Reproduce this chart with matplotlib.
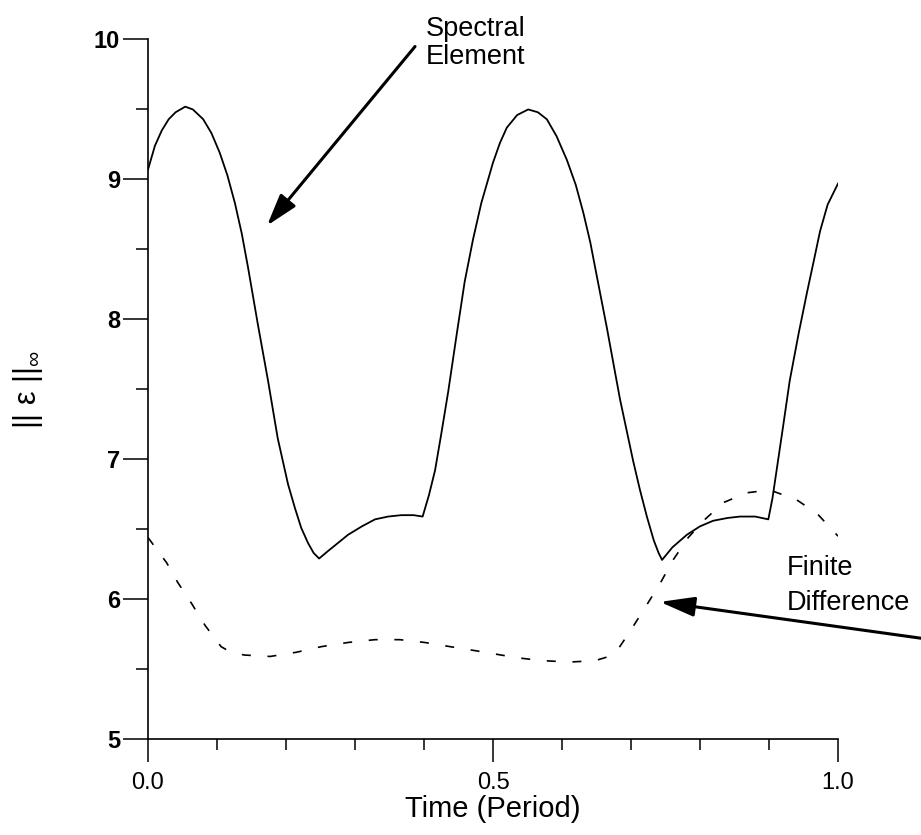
import matplotlib
matplotlib.use('Agg')
import matplotlib.pyplot as plt
import numpy as np

plt.rcParams['font.family'] = ['Liberation Sans', 'DejaVu Sans']
plt.rcParams['mathtext.fontset'] = 'custom'
plt.rcParams['mathtext.rm'] = 'Liberation Sans'
plt.rcParams['mathtext.it'] = 'Liberation Sans'

### Donnees

# Spectral Element (trait plein)
t_se = np.array([0.0, 0.01, 0.02, 0.03, 0.04, 0.054, 0.065, 0.08, 0.092, 0.104,
                 0.115, 0.126, 0.136, 0.145, 0.159, 0.174, 0.188, 0.203, 0.213, 0.222,
                 0.232, 0.240, 0.248, 0.26, 0.275, 0.29, 0.31, 0.329, 0.348, 0.367,
                 0.385, 0.398, 0.407, 0.416, 0.425, 0.435, 0.447, 0.459, 0.471, 0.483,
                 0.5, 0.51, 0.52, 0.535, 0.551, 0.565, 0.578, 0.592, 0.607, 0.62,
                 0.631, 0.641, 0.65, 0.665, 0.684, 0.703, 0.713, 0.723, 0.733, 0.74,
                 0.745, 0.76, 0.781, 0.80, 0.819, 0.84, 0.858, 0.88, 0.899, 0.905,
                 0.911, 0.92, 0.93, 0.943, 0.955, 0.965, 0.974, 0.985, 1.0])
e_se = np.array([9.07, 9.24, 9.35, 9.43, 9.48, 9.52, 9.50, 9.43, 9.33, 9.19,
                 9.03, 8.83, 8.61, 8.37, 7.97, 7.56, 7.15, 6.82, 6.65, 6.51,
                 6.40, 6.33, 6.29, 6.34, 6.40, 6.46, 6.52, 6.57, 6.59, 6.60,
                 6.60, 6.59, 6.74, 6.92, 7.18, 7.48, 7.88, 8.27, 8.57, 8.83,
                 9.12, 9.26, 9.37, 9.46, 9.50, 9.48, 9.43, 9.31, 9.14, 8.96,
                 8.76, 8.55, 8.32, 7.94, 7.43, 6.99, 6.78, 6.59, 6.42, 6.33,
                 6.28, 6.37, 6.46, 6.52, 6.56, 6.58, 6.59, 6.59, 6.57, 6.72,
                 6.92, 7.22, 7.56, 7.90, 8.19, 8.42, 8.63, 8.82, 8.97])

# Finite Difference (tirets)
t_fd = np.array([0.0, 0.027, 0.043, 0.063, 0.083, 0.106, 0.12, 0.14, 0.177, 0.215,
                 0.251, 0.29, 0.329, 0.365, 0.401, 0.438, 0.476, 0.5, 0.536, 0.572,
                 0.611, 0.648, 0.668, 0.681, 0.70, 0.723, 0.742, 0.761, 0.783, 0.805,
                 0.834, 0.868, 0.901, 0.94, 0.97, 1.0])
e_fd = np.array([6.44, 6.26, 6.12, 5.97, 5.81, 5.66, 5.62, 5.60, 5.59, 5.62,
                 5.66, 5.69, 5.71, 5.71, 5.69, 5.66, 5.63, 5.61, 5.58, 5.56,
                 5.55, 5.56, 5.59, 5.64, 5.78, 5.96, 6.11, 6.28, 6.44, 6.56,
                 6.69, 6.76, 6.78, 6.71, 6.61, 6.45])

### Trace

W, H = 921, 835
fig = plt.figure(figsize=(W/100, H/100), dpi=100)
ax = fig.add_axes([148/W, 1-739/H, 690/W, 699.5/H])

ax.plot(t_se, e_se, color='black', lw=1.3)
ax.plot(t_fd, e_fd, color='black', lw=1.2, linestyle=(0, (5.4, 10)))

ax.set_xlim(0, 1.0)
ax.set_ylim(5, 10)
ax.spines['top'].set_visible(False)
ax.spines['right'].set_visible(False)
for s in ['left', 'bottom']:
    ax.spines[s].set_linewidth(1.2)

ax.set_xticks([0.0, 0.5, 1.0])
ax.set_xticklabels(['0.0', '0.5', '1.0'])
ax.set_xticks([0.1, 0.2, 0.3, 0.4, 0.6, 0.7, 0.8, 0.9], minor=True)
ax.set_yticks([5, 6, 7, 8, 9, 10])
ax.set_yticks([5.5, 6.5, 7.5, 8.5, 9.5], minor=True)

ax.tick_params(axis='x', which='major', direction='out', length=16.5, width=1.1, pad=7, labelsize=17)
ax.tick_params(axis='x', which='minor', direction='out', length=8, width=1.1)
ax.tick_params(axis='y', which='major', direction='out', length=18, width=1.1, pad=2, labelsize=17)
ax.tick_params(axis='y', which='minor', direction='out', length=8.6, width=1.1)
for lab in ax.get_yticklabels():
    lab.set_fontweight('bold')

ax.set_xlabel('Time (Period)', fontsize=21, labelpad=1)
ax.set_ylabel('|| ε ||$_{\\infty}$', fontsize=22)
ax.yaxis.set_label_coords(-0.149, 0.5)

# fleches et textes
ax.annotate('', xy=(0.1725, 8.67), xytext=(0.387, 9.95),
            arrowprops=dict(arrowstyle='-|>,head_length=1.3,head_width=0.4',
                            mutation_scale=15, lw=2.2, color='black', shrinkA=0, shrinkB=0),
            annotation_clip=False)
ax.text(0.402, 9.975, 'Spectral\nElement', fontsize=19.5, ha='left', va='center',
        linespacing=1.1, clip_on=False)

ax.annotate('', xy=(0.742, 5.98), xytext=(1.15, 5.70),
            arrowprops=dict(arrowstyle='-|>,head_length=1.4,head_width=0.4',
                            mutation_scale=15, lw=2.2, color='black', shrinkA=0, shrinkB=0),
            annotation_clip=False)
ax.text(0.925, 6.1, 'Finite\nDifference', fontsize=19.5, ha='left', va='center',
        linespacing=1.45, clip_on=False)

plt.savefig('out.png', dpi=100)
